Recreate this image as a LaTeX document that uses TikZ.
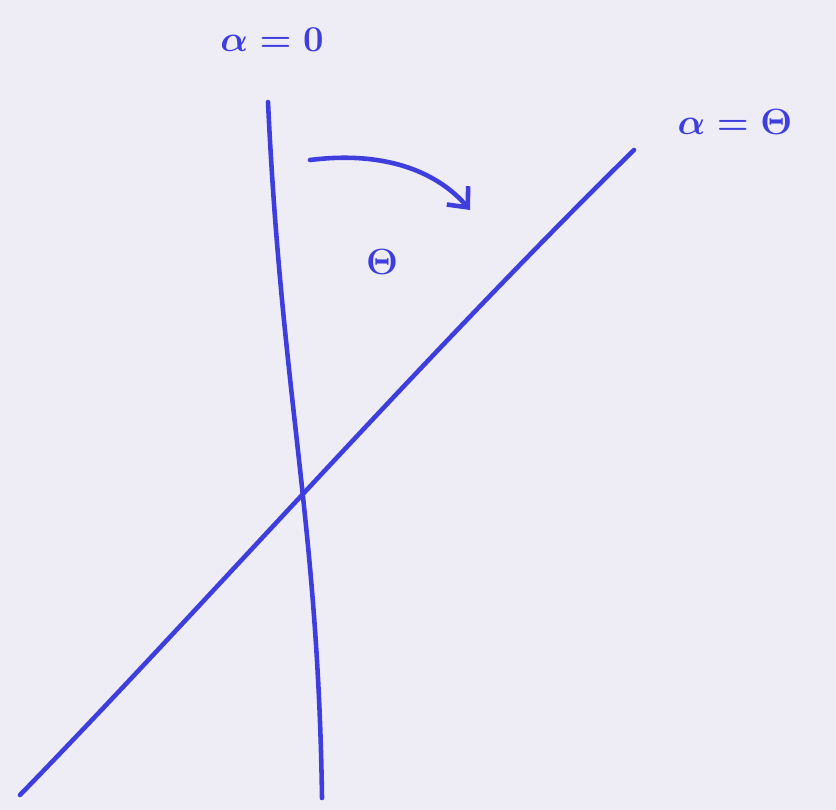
\documentclass[tikz,border=0pt]{standalone}
\usepackage{xcolor}
\definecolor{ink}{RGB}{62,62,222}
\definecolor{paper}{RGB}{238,237,246}
\usepackage{tikz}
\usetikzlibrary{arrows.meta,positioning,calc}

\begin{document}
\begin{tikzpicture}[x=0.02cm,y=-0.02cm,
  stroke/.style={draw=ink,line width=2.6pt,line cap=round},
  lbl/.style={font=\huge\boldmath\color{ink},inner sep=2pt},
]
  %% Paper
  \fill[paper] (0,0) rectangle (836,810);
  \useasboundingbox (0,0) rectangle (836,810);

  %% End points
  \coordinate (V1) at (268,102);
  \coordinate (V2) at (322,798);
  \coordinate (D1) at (20,795);
  \coordinate (D2) at (634,150);
  \coordinate (A1) at (310,160);
  \coordinate (A2) at (470,210);

  %% Lines
  \draw[stroke] (V1) .. controls (282,400) and (318,520) .. (V2);
  \draw[stroke] (D1) .. controls (200,610) and (420,360) .. (D2);

  %% Arc arrow
  \draw[stroke,-{Straight Barb[length=9pt,width=16pt]}]
    (A1) .. controls (390,150) and (440,175) .. (A2);

  %% Labels
  \node[lbl] (L0) at (272,40) {$\alpha=0$};
  \node[lbl] (LT) at (735,122) {$\alpha=\Theta$};
  \node[lbl] (TH) at (382,262) {$\Theta$};
\end{tikzpicture}
\end{document}
